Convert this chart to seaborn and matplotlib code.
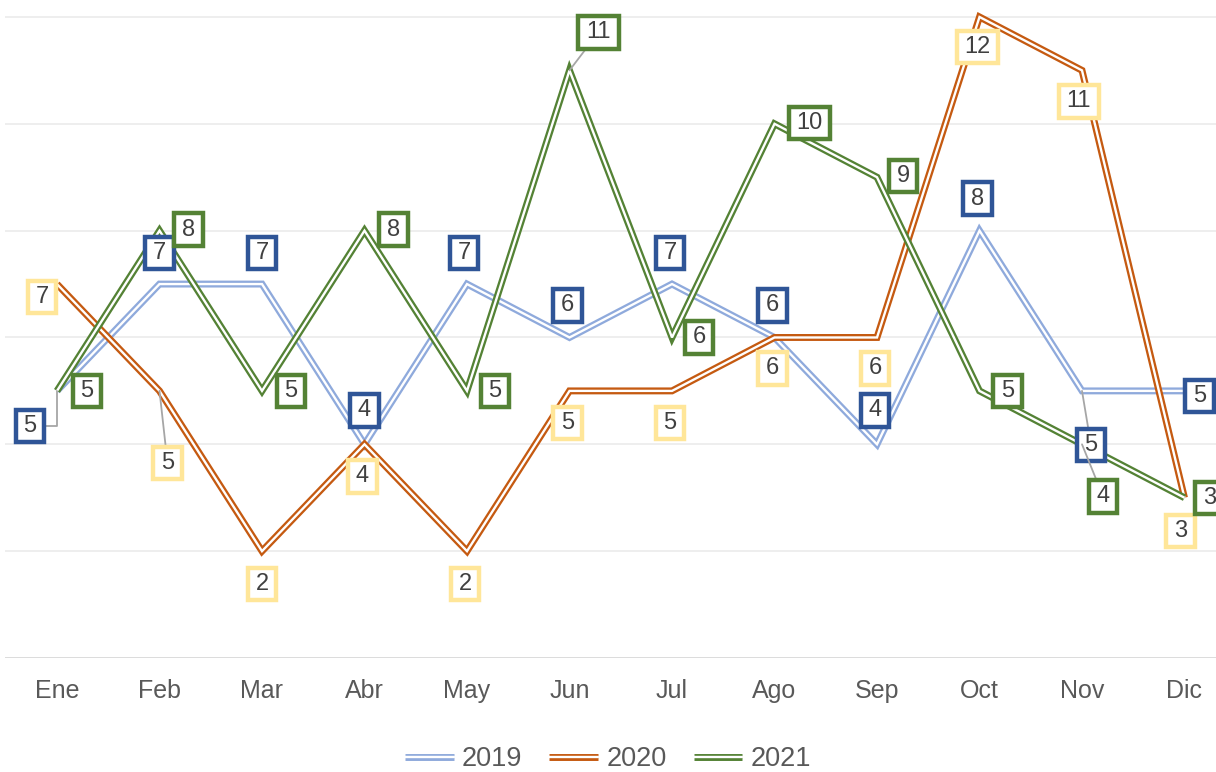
#!/usr/bin/env python3

import matplotlib
matplotlib.use("Agg")
import matplotlib.pyplot as plt
import matplotlib.patheffects as pe
from matplotlib.lines import Line2D
from matplotlib.path import Path
import pandas as pd
import seaborn as sns

# *** Data ***
months = ["Ene", "Feb", "Mar", "Abr", "May", "Jun",
          "Jul", "Ago", "Sep", "Oct", "Nov", "Dic"]
years = ["2019", "2020", "2021"]
v2019 = [5, 7, 7, 4, 7, 6, 7, 6, 4, 8, 5, 5]
v2020 = [7, 5, 2, 4, 2, 5, 5, 6, 6, 12, 11, 3]
v2021 = [5, 8, 5, 8, 5, 11, 6, 10, 9, 5, 4, 3]

# *** Styles ***
line_colors = {"2019": "#8FAADC", "2020": "#C55A11", "2021": "#548235"}
box_colors = {"2019": "#2F5597", "2020": "#FFE699", "2021": "#548235"}

# label offsets in pixels (dx right, dy down)
offsets = {
    "2019": [(-27, 35), (0, -31), (0, -31), (0, -34), (-3, -31), (-2, -32),
             (-2, -31), (-2, -32), (-2, -34), (-2, -32), (9, 54), (15, 5)],
    "2020": [(-15, 13), (8, 72), (0, 33), (-2, 32), (-2, 33), (-2, 32),
             (-2, 32), (-2, 31), (-2, 31), (-2, 30), (-3, 31), (-4, 33)],
    "2021": [(30, 0), (29, -1), (29, 0), (29, -1), (28, 0), (29, -38),
             (27, 0), (35, -1), (26, -1), (28, 0), (21, 52), (25, 0)],
}
# leader lines: index -> connection style
leaders = {
    "2019": {0: "angle,angleA=0,angleB=90,rad=0", 10: "arc3"},
    "2020": {1: "arc3"},
    "2021": {5: "arc3", 10: "arc3"},
}


def double_line(color):
    # Excel-like "double" compound line: coloured stroke with white core
    return [pe.Stroke(linewidth=5.0, foreground=color,
                      joinstyle="miter", capstyle="butt"),
            pe.Normal()]


def label_box(x0, y0, width, height, mutation_size):
    # rectangle with more horizontal than vertical padding
    px, py = 0.33 * mutation_size, 0.22 * mutation_size
    x0, y0 = x0 - px, y0 - py
    x1, y1 = x0 + width + 2 * px, y0 + height + 2 * py
    return Path([(x0, y0), (x1, y0), (x1, y1), (x0, y1), (x0, y0)], closed=True)


df = pd.DataFrame({
    "mes": months * 3,
    "x": list(range(12)) * 3,
    "valor": v2019 + v2020 + v2021,
    "año": [y for y in years for _ in months],
})

sns.set_theme(style="white")
plt.rcParams["font.family"] = ["Liberation Sans", "DejaVu Sans"]

fig = plt.figure(figsize=(12.16, 7.72), dpi=100)
ax = fig.add_axes([5 / 1216, 114 / 772, 1211 / 1216, 658 / 772])

for y in [2, 4, 6, 8, 10, 12]:
    ax.axhline(y, color="#EDEDED", lw=1.3, zorder=0)
ax.axhline(0, color="#D9D9D9", lw=1.3, zorder=0)

for yr in years:
    sub = df[df["año"] == yr]
    sns.lineplot(data=sub, x="x", y="valor", ax=ax, sort=False,
                 color="white", linewidth=1.7, legend=False,
                 solid_joinstyle="miter", solid_capstyle="butt",
                 path_effects=double_line(line_colors[yr]))

for yr in years:
    sub = df[df["año"] == yr].reset_index(drop=True)
    for i, row in sub.iterrows():
        dx, dy = offsets[yr][i]
        arrow = None
        if i in leaders[yr]:
            arrow = dict(arrowstyle="-", color="#A6A6A6", lw=1.3,
                         shrinkA=0, shrinkB=0,
                         connectionstyle=leaders[yr][i])
        ax.annotate(str(row["valor"]), xy=(row["x"], row["valor"]),
                    xytext=(dx, -dy), textcoords="offset pixels",
                    ha="center", va="center", fontsize=17, color="#404040",
                    annotation_clip=False, zorder=5, arrowprops=arrow,
                    bbox=dict(boxstyle=label_box, fc="white",
                              ec=box_colors[yr], lw=3.2))

ax.set_xlim(-52 / 102.5, -52 / 102.5 + 1211 / 102.5)
ax.set_ylim(0, 658 / 53.42)
ax.set_xticks(range(12))
ax.set_xticklabels(months)
ax.set_yticks([])
ax.set_xlabel("")
ax.set_ylabel("")
ax.tick_params(axis="x", length=0, pad=15, labelsize=18, labelcolor="#595959")
sns.despine(ax=ax, left=True, bottom=True, top=True, right=True)

handles = [Line2D([], [], color="white", lw=1.7,
                  path_effects=double_line(line_colors[yr])) for yr in years]
fig.legend(handles, years, loc="center", bbox_to_anchor=(0.5, 13 / 772),
           ncol=3, frameon=False, fontsize=19.5, labelcolor="#595959",
           handlelength=1.8, handletextpad=0.3, columnspacing=1.0)

fig.savefig("out.png", dpi=100)
